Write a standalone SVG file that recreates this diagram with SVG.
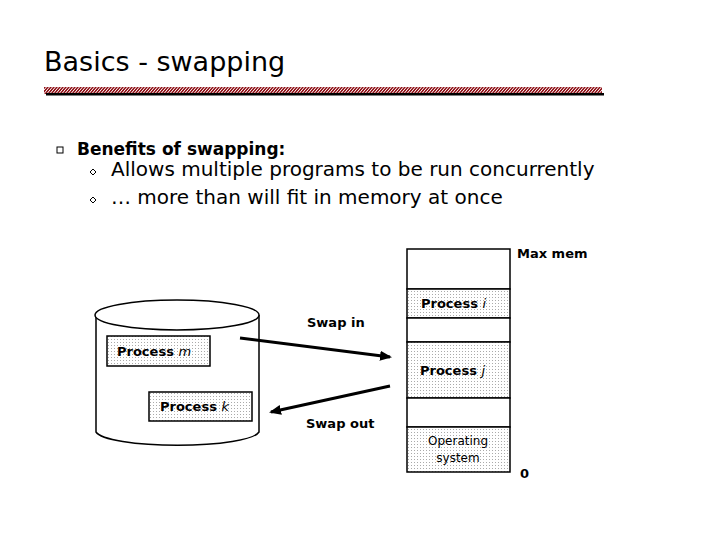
<svg xmlns="http://www.w3.org/2000/svg" width="720" height="540" viewBox="0 0 720 540">
<defs>
<pattern id="hatch" width="3" height="8" patternUnits="userSpaceOnUse" patternTransform="skewX(-40)"><rect width="3" height="8" fill="#fff"/><rect width="2" height="8" fill="#8f1218"/></pattern>
<pattern id="dots" width="3" height="3" patternUnits="userSpaceOnUse"><rect width="3" height="3" fill="#fff"/><rect width="1" height="1" fill="#aaa"/></pattern>
<marker id="ah" markerWidth="12" markerHeight="10" refX="10" refY="5" orient="auto" markerUnits="userSpaceOnUse"><path d="M0,0 L12,5 L0,10 z" fill="#000"/></marker>
<style>
text{font-family:"DejaVu Sans","Liberation Sans",sans-serif;fill:#000}
.lbl{font-size:13px;font-weight:bold}
.box{fill:url(#dots);stroke:#000;stroke-width:1.5}
.mem{stroke:#000;stroke-width:1.5}
</style>
</defs>
<rect width="720" height="540" fill="#fff"/>
<text x="44" y="71" font-size="27">Basics - swapping</text>
<rect x="44" y="87" width="558" height="7" fill="url(#hatch)"/>
<rect x="46" y="93" width="558" height="2.5" fill="#000"/>
<rect x="57" y="147" width="6" height="6" fill="none" stroke="#000"/>
<text x="77" y="155" font-size="17" font-weight="bold">Benefits of swapping:</text>
<path d="M93,169 l3,3 -3,3 -3,-3z M93,197 l3,3 -3,3 -3,-3z" fill="none" stroke="#000"/>
<text x="111" y="176" font-size="20">Allows multiple programs to be run concurrently</text>
<text x="111" y="204" font-size="20">… more than will fit in memory at once</text>
<g id="disk">
<path d="M96,315 L96,432 A82,15 0 0 0 259,432 L259,315" fill="#fff" stroke="#000" stroke-width="1.5"/>
<ellipse cx="177" cy="315" rx="82" ry="15" fill="#fff" stroke="#000" stroke-width="1.5"/>
</g>
<g id="pm"><rect class="box" x="107" y="336" width="103" height="30"/><text class="lbl" x="117" y="356">Process <tspan font-style="italic" font-weight="normal">m</tspan></text></g>
<g id="pk"><rect class="box" x="149" y="392" width="103" height="29"/><text class="lbl" x="160" y="411">Process <tspan font-style="italic" font-weight="normal">k</tspan></text></g>
<g id="memory">
<rect class="mem" x="407" y="249" width="103" height="40" fill="#fff"/>
<rect class="mem" x="407" y="289" width="103" height="29" fill="url(#dots)"/>
<rect class="mem" x="407" y="318" width="103" height="24" fill="#fff"/>
<rect class="mem" x="407" y="342" width="103" height="56" fill="url(#dots)"/>
<rect class="mem" x="407" y="398" width="103" height="29" fill="#fff"/>
<rect class="mem" x="407" y="427" width="103" height="45" fill="url(#dots)"/>
<text class="lbl" x="421" y="308">Process <tspan font-style="italic" font-weight="normal">i</tspan></text>
<text class="lbl" x="420" y="375">Process <tspan font-style="italic" font-weight="normal">j</tspan></text>
<text x="458" y="445" font-size="12" text-anchor="middle">Operating</text>
<text x="458" y="462" font-size="12" text-anchor="middle">system</text>
<text class="lbl" x="517" y="258">Max mem</text>
<text class="lbl" x="520" y="478">0</text>
</g>
<g id="connectors" stroke="#000" stroke-width="3">
<line x1="240" y1="338" x2="390" y2="357" marker-end="url(#ah)"/>
<line x1="390" y1="386" x2="271" y2="412" marker-end="url(#ah)"/>
</g>
<text class="lbl" x="307" y="327">Swap in</text>
<text class="lbl" x="306" y="428">Swap out</text>
</svg>
